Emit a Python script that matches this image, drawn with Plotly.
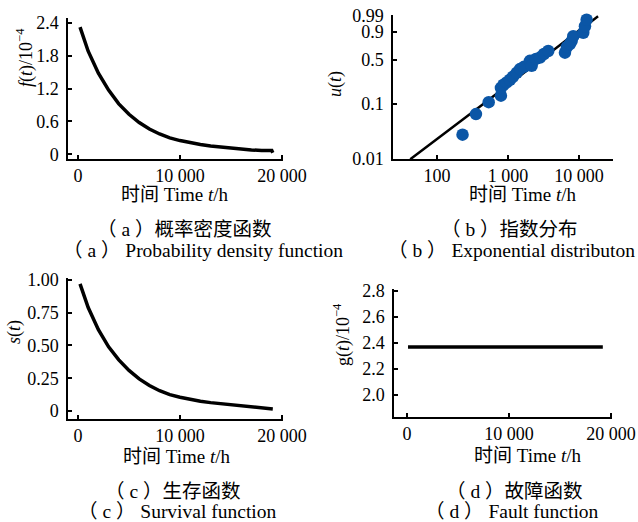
import numpy as np
import plotly.graph_objects as go

W, H = 638, 522

# ---------------- data ----------------
# (a) probability density f(t) in 1e-4
t_a = [200, 1000, 2000, 3000, 4000, 5000, 6000, 7000, 8000, 9000, 10000,
       11000, 12000, 13000, 14000, 15000, 16000, 17000, 18000, 19000, 19100]
f_a = [2.32, 1.88, 1.48, 1.17, 0.92, 0.73, 0.58, 0.46, 0.37, 0.30, 0.25,
       0.21, 0.18, 0.15, 0.13, 0.12, 0.10, 0.08, 0.07, 0.07, 0.03]

# (b) exponential probability plot
t_b_pts = [229, 354, 535, 796, 796, 865, 959, 1067, 1175, 1326, 1476, 1680,
           2041, 2157, 2478, 2824, 3216, 3697, 6353, 6780, 7470, 7890, 8318,
           11500, 12160, 12830]
u_b_pts = [0.028, 0.066, 0.107, 0.139, 0.188, 0.212, 0.231, 0.255, 0.285,
           0.327, 0.371, 0.40, 0.483, 0.413, 0.511, 0.531, 0.587, 0.634,
           0.608, 0.696, 0.741, 0.784, 0.849, 0.887, 0.944, 0.978]
t_b_line = [42, 100, 200, 300, 500, 1000, 2000, 3000, 5000, 7000, 10000, 14000, 18600]
u_b_line = [0.0099, 0.023, 0.046, 0.068, 0.11, 0.21, 0.38, 0.51, 0.69, 0.81, 0.91, 0.964, 0.988]
u_ticks = [0.01, 0.1, 0.5, 0.9, 0.99]
u_tick_text = ["0.01", "0.1", "0.5", "0.9", "0.99"]

# (c) survival s(t)
t_c = t_a
s_c = [0.97, 0.79, 0.62, 0.49, 0.39, 0.31, 0.245, 0.195, 0.155, 0.125, 0.105,
       0.088, 0.075, 0.064, 0.056, 0.049, 0.04, 0.032, 0.025, 0.015, 0.015]

# (d) fault function g(t) in 1e-4
t_d = [100, 19200]
g_d = [2.37, 2.37]

x_ticks = [0, 10000, 20000]
x_tick_text = ["0", "10 000", "20 000"]


def weib(u):
    return np.log10(-np.log(1 - np.asarray(u, dtype=float)))


SERIF = "Liberation Serif, Times New Roman, Noto Sans CJK SC, serif"
FS = 18
TICKFONT = dict(family=SERIF, size=FS, color="black")

fig = go.Figure()
fig.add_trace(go.Scatter(x=t_a, y=f_a, mode="lines", line=dict(color="black", width=3.5),
                         xaxis="x", yaxis="y", showlegend=False))
fig.add_trace(go.Scatter(x=t_b_line, y=weib(u_b_line), mode="lines",
                         line=dict(color="black", width=2.5),
                         xaxis="x2", yaxis="y2", showlegend=False))
fig.add_trace(go.Scatter(x=t_b_pts, y=weib(u_b_pts), mode="markers",
                         marker=dict(color="#0b56a6", size=12.5),
                         xaxis="x2", yaxis="y2", showlegend=False, cliponaxis=False))
fig.add_trace(go.Scatter(x=t_c, y=s_c, mode="lines", line=dict(color="black", width=3.5),
                         xaxis="x3", yaxis="y3", showlegend=False))
fig.add_trace(go.Scatter(x=t_d, y=g_d, mode="lines", line=dict(color="black", width=3.5),
                         xaxis="x4", yaxis="y4", showlegend=False))


def px_x(p):
    return p / W


def px_y(p):
    return 1 - p / H


common = dict(showline=True, linecolor="black", linewidth=1.5, showgrid=False,
              zeroline=False, ticks="inside", ticklen=4, tickwidth=1.5,
              tickcolor="black", tickfont=TICKFONT, automargin=False)
ycommon = dict(common, ticklabelstandoff=4)

fig.update_layout(
    width=W, height=H, margin=dict(l=0, r=0, t=0, b=0),
    plot_bgcolor="white", paper_bgcolor="white",
    xaxis=dict(domain=[px_x(68), px_x(283)], range=[-980, 20100], anchor="y",
               tickvals=x_ticks, ticktext=x_tick_text, **common),
    yaxis=dict(domain=[px_y(159), px_y(18)], range=[-0.086, 2.486], anchor="x",
               tickvals=[0, 0.6, 1.2, 1.8, 2.4], ticktext=["0", "0.6", "1.2", "1.8", "2.4"], **ycommon),
    xaxis2=dict(domain=[px_x(393), px_x(613)], type="log", range=[1.38, 4.48], anchor="y2",
                tickvals=[100, 1000, 10000], ticktext=["100", "1 000", "10 000"], **common),
    yaxis2=dict(domain=[px_y(159), px_y(15)], range=[float(weib(0.01)), float(weib(0.99)) + 0.005],
                anchor="x2", tickvals=list(weib(u_ticks)), ticktext=u_tick_text, **ycommon),
    xaxis3=dict(domain=[px_x(68), px_x(283)], range=[-980, 20100], anchor="y3",
                tickvals=x_ticks, ticktext=x_tick_text, **common),
    yaxis3=dict(domain=[px_y(419), px_y(278)], range=[-0.061, 1.015], anchor="x3",
                tickvals=[0, 0.25, 0.5, 0.75, 1.0], ticktext=["0", "0.25", "0.50", "0.75", "1.00"], **ycommon),
    xaxis4=dict(domain=[px_x(394), px_x(612)], range=[-1275, 20100], anchor="y4",
                tickvals=x_ticks, ticktext=x_tick_text, **common),
    yaxis4=dict(domain=[px_y(417), px_y(289)], range=[1.831, 2.815], anchor="x4",
                tickvals=[2.0, 2.2, 2.4, 2.6, 2.8], ticktext=["2.0", "2.2", "2.4", "2.6", "2.8"], **ycommon),
)

ann = []
LBL = dict(family=SERIF, size=FS, color="black")
XLBL = dict(family=SERIF, size=19, color="black")
CAP = dict(family=SERIF, size=19.5, color="black")


def add(text, x, y, font, angle=0):
    ann.append(dict(text=text, x=px_x(x), y=px_y(y), xref="paper", yref="paper",
                    showarrow=False, xanchor="center", yanchor="middle",
                    textangle=angle, font=font))


XT = "时间 Time <i>t</i>/h"
add(XT, 174, 194, XLBL)
add(XT, 522, 194, XLBL)
add(XT, 176, 456, XLBL)
add(XT, 527, 455, XLBL)

add("<i>f</i>(<i>t</i>)/10<sup>−4</sup>", 25, 58, LBL, -90)
add("<i>u</i>(<i>t</i>)", 335, 84, LBL, -90)
add("<i>s</i>(<i>t</i>)", 14, 332, LBL, -90)
add("g(<i>t</i>)/10<sup>−4</sup>", 342, 335, LBL, -90)

add("（ a ）概率密度函数", 184, 230, CAP)
add("（ a ） Probability density function", 203, 250, CAP)
add("（ b ）指数分布", 509, 230, CAP)
add("（ b ） Exponential distributon", 511, 250, CAP)
add("（ c ）生存函数", 172, 491, CAP)
add("（ c ） Survival function", 177, 511, CAP)
add("（ d ）故障函数", 514, 491, CAP)
add("（ d ） Fault function", 512, 511, CAP)

fig.update_layout(annotations=ann)
fig.write_html("out.html")
